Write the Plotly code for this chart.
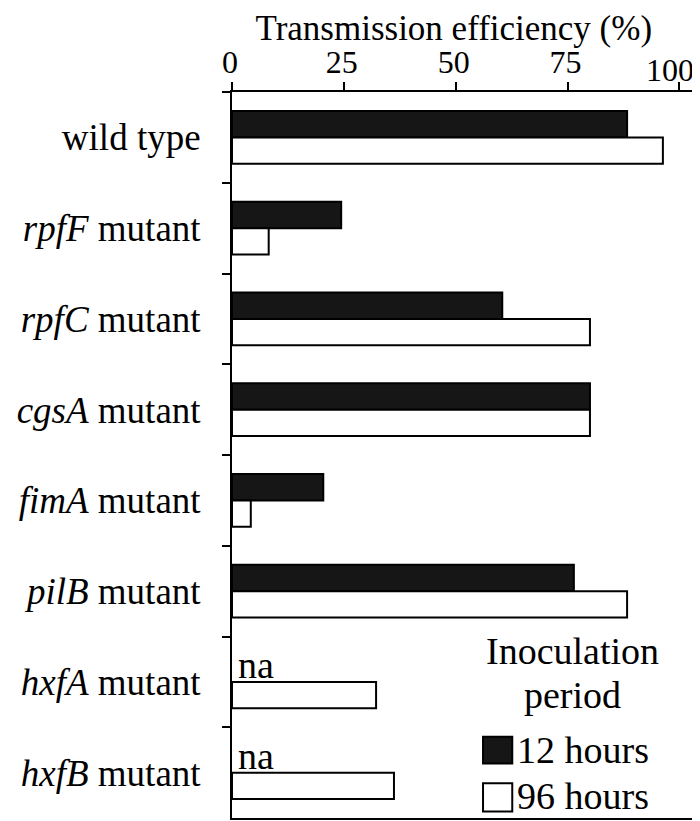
import plotly.graph_objects as go

categories = ["wild type", "<i>rpfF</i> mutant", "<i>rpfC</i> mutant", "<i>cgsA</i> mutant",
              "<i>fimA</i> mutant", "<i>pilB</i> mutant", "<i>hxfA</i> mutant", "<i>hxfB</i> mutant"]
hours12 = [88.3, 24.4, 60.4, 80.0, 20.4, 76.4, None, None]
hours96 = [96.3, 8.2, 80.0, 80.0, 4.2, 88.3, 32.2, 36.2]
x_ticks = [0, 25, 50, 75, 100]
series_names = ["12 hours", "96 hours"]
axis_title = "Transmission efficiency (%)"
legend_title = ["Inoculation", "period"]

FONT = "Liberation Serif, Times New Roman, serif"
TICKFONT = dict(family=FONT, size=32, color="black")

fig = go.Figure()
fig.add_trace(go.Bar(y=categories, x=hours12, orientation="h", name=series_names[0],
                     marker=dict(color="#161616", line=dict(color="black", width=2)),
                     showlegend=False))
fig.add_trace(go.Bar(y=categories, x=hours96, orientation="h", name=series_names[1],
                     marker=dict(color="white", line=dict(color="black", width=2)),
                     showlegend=False))

annotations = []
for cat, v in zip(categories, hours12):
    if v is None:
        annotations.append(dict(x=0, y=cat, xref="x", yref="y", text="na", showarrow=False,
                                xanchor="left", yanchor="middle", xshift=4, yshift=17,
                                font=dict(family=FONT, size=38, color="black")))

# last x tick label, pulled inward so it stays inside the picture (as in the original)
annotations.append(dict(x=x_ticks[-1], y=1, xref="x", yref="paper", text=str(x_ticks[-1]),
                        showarrow=False, xanchor="center", yanchor="middle",
                        xshift=-9, yshift=22, font=TICKFONT))

# legend (drawn manually so the swatches match the original size)
LEGFONT = dict(family=FONT, size=38, color="black")
annotations.append(dict(x=0.734, y=0.230, xref="paper", yref="paper", text=legend_title[0],
                        showarrow=False, xanchor="center", yanchor="middle", font=LEGFONT))
annotations.append(dict(x=0.734, y=0.169, xref="paper", yref="paper", text=legend_title[1],
                        showarrow=False, xanchor="center", yanchor="middle", font=LEGFONT))
annotations.append(dict(x=0.610, y=0.0937, xref="paper", yref="paper", text=series_names[0],
                        showarrow=False, xanchor="left", yanchor="middle", font=LEGFONT))
annotations.append(dict(x=0.610, y=0.0303, xref="paper", yref="paper", text=series_names[1],
                        showarrow=False, xanchor="left", yanchor="middle", font=LEGFONT))

shapes = [
    dict(type="rect", xref="paper", yref="paper", x0=0.541, x1=0.604, y0=0.075, y1=0.112,
         fillcolor="#161616", line=dict(color="black", width=2)),
    dict(type="rect", xref="paper", yref="paper", x0=0.541, x1=0.604, y0=0.009, y1=0.048,
         fillcolor="white", line=dict(color="black", width=2)),
]

ticktext = [str(t) for t in x_ticks[:-1]] + [""]

# the page adds an 8px body margin, so the figure is 692x813 inside the 700x821 window
fig.update_layout(
    width=692, height=813,
    margin=dict(l=224, r=4, t=84, b=3),
    paper_bgcolor="white", plot_bgcolor="white",
    barmode="group", bargap=0.42, bargroupgap=0,
    font=dict(family=FONT, color="black", size=37),
    title=dict(text=axis_title, xref="paper", x=0.478, xanchor="center",
               yref="container", y=0.9754, yanchor="middle",
               font=dict(family=FONT, size=35, color="black")),
    annotations=annotations, shapes=shapes,
    showlegend=False,
)
fig.update_xaxes(
    side="top", range=[0, 103.7], tickvals=x_ticks, ticktext=ticktext,
    ticks="outside", ticklen=8, tickwidth=2, tickcolor="black",
    showline=True, linecolor="black", linewidth=2, mirror=True,
    showgrid=False, zeroline=False, automargin=False,
    ticklabelstandoff=-4, ticklabelshift=-2,
    tickfont=TICKFONT,
)
fig.update_yaxes(
    autorange="reversed", categoryorder="array", categoryarray=categories,
    ticks="outside", ticklen=8, tickwidth=2, tickcolor="black", tickson="boundaries",
    showline=True, linecolor="black", linewidth=2, mirror=True,
    showgrid=False, ticklabelstandoff=22, automargin=False,
    tickfont=dict(family=FONT, size=37, color="black"),
)

fig.write_html("out.html")
